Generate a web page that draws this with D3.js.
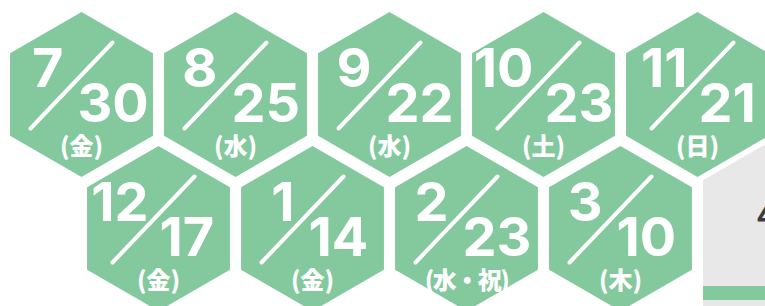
<!DOCTYPE html>
<html>
<head>
<meta charset="utf-8">
<script src="https://cdn.jsdelivr.net/npm/d3@7"></script>
<style>
  html, body { margin: 0; padding: 0; background: #fff; overflow: hidden; }
  svg { display: block; }
  .num { font-variant-numeric: proportional-nums; font-feature-settings: "pnum" 1; }
</style>
</head>
<body>
<div class="canvas"></div>
<script>
const dims = {'width': 765, 'height': 306};

// schedule data
const months = ['7', '8', '9', '10', '11', '12', '1', '2', '3'];
const days = ['30', '25', '22', '23', '21', '17', '14', '23', '10'];
const weekdays = ['(金)', '(水)', '(水)', '(土)', '(日)', '(金)', '(金)', '(水・祝)', '(木)'];
const perRow = [5, 4];

const green = '#84c99e';
const R = 82.5;

const svg = d3.select('.canvas')
    .append('svg')
    .attr('width', dims.width)
    .attr('height', dims.height);

// grey panel at the right, partly hidden behind the honeycomb
const panel = svg.append('g');
panel.append('rect')
    .attr('x', 703).attr('y', 130)
    .attr('width', 70).attr('height', 190)
    .attr('fill', '#e7e8e7');
panel.append('rect')
    .attr('x', 703).attr('y', 286)
    .attr('width', 70).attr('height', 14)
    .attr('fill', green);
panel.append('text')
    .attr('x', 757).attr('y', 227)
    .attr('font-family', 'Noto Sans CJK JP')
    .attr('font-weight', 700)
    .attr('font-size', 30)
    .attr('fill', '#3b3b40')
    .text('4');

// scales for the honeycomb
const col = d3.scaleLinear().domain([0, 4]).range([81.5, 81.5 + 4 * 154]);
const row = d3.scaleLinear().domain([0, 1]).range([94.5, 228.5]);

const data = months.map((m, i) => {
    const r = i < perRow[0] ? 0 : 1;
    const c = r === 0 ? i : i - perRow[0] + 0.5;
    return {month: m, day: days[i], wd: weekdays[i], x: col(c), y: row(r)};
});

const hexPath = rad => {
    const pts = d3.range(6).map(k => {
        const a = (k * 60 - 90) * Math.PI / 180;
        return [rad * Math.cos(a), rad * Math.sin(a)];
    });
    return 'M' + pts.join('L') + 'Z';
};

const hexes = svg.selectAll('g.hex').data(data)
    .enter().append('g')
    .attr('class', 'hex')
    .attr('transform', d => `translate(${d.x},${d.y})`);

// white border over the panel
hexes.append('path')
    .attr('d', hexPath(R + 6.5))
    .attr('fill', '#fff');

hexes.append('path')
    .attr('d', hexPath(R))
    .attr('fill', green);

// two digit months push everything a little to the right
const extra = d => d.month.length - 1;

hexes.append('line')
    .attr('x1', d => 31 + 5 * extra(d)).attr('y1', -52)
    .attr('x2', d => -51 + 5 * extra(d)).attr('y2', 34)
    .attr('stroke', '#fff')
    .attr('stroke-width', 4)
    .attr('stroke-linecap', 'round');

const num = sel => sel
    .attr('class', 'num')
    .attr('font-family', 'Inter')
    .attr('font-weight', 700)
    .attr('font-size', 54)
    .attr('fill', '#fff');

hexes.append('text')
    .call(num)
    .attr('text-anchor', 'end')
    .attr('x', d => -18 + 8 * extra(d))
    .attr('y', -8)
    .text(d => d.month);

hexes.append('text')
    .call(num)
    .attr('text-anchor', 'start')
    .attr('x', d => -4 + 5 * extra(d))
    .attr('y', 27)
    .text(d => d.day);

hexes.append('text')
    .attr('font-family', 'Noto Sans CJK JP')
    .attr('font-weight', 900)
    .attr('font-size', 24)
    .attr('letter-spacing', d => d.wd.length > 3 ? -1.5 : 0)
    .attr('fill', '#fff')
    .attr('text-anchor', 'middle')
    .attr('x', 0)
    .attr('y', 60)
    .text(d => d.wd);
</script>
</body>
</html>
